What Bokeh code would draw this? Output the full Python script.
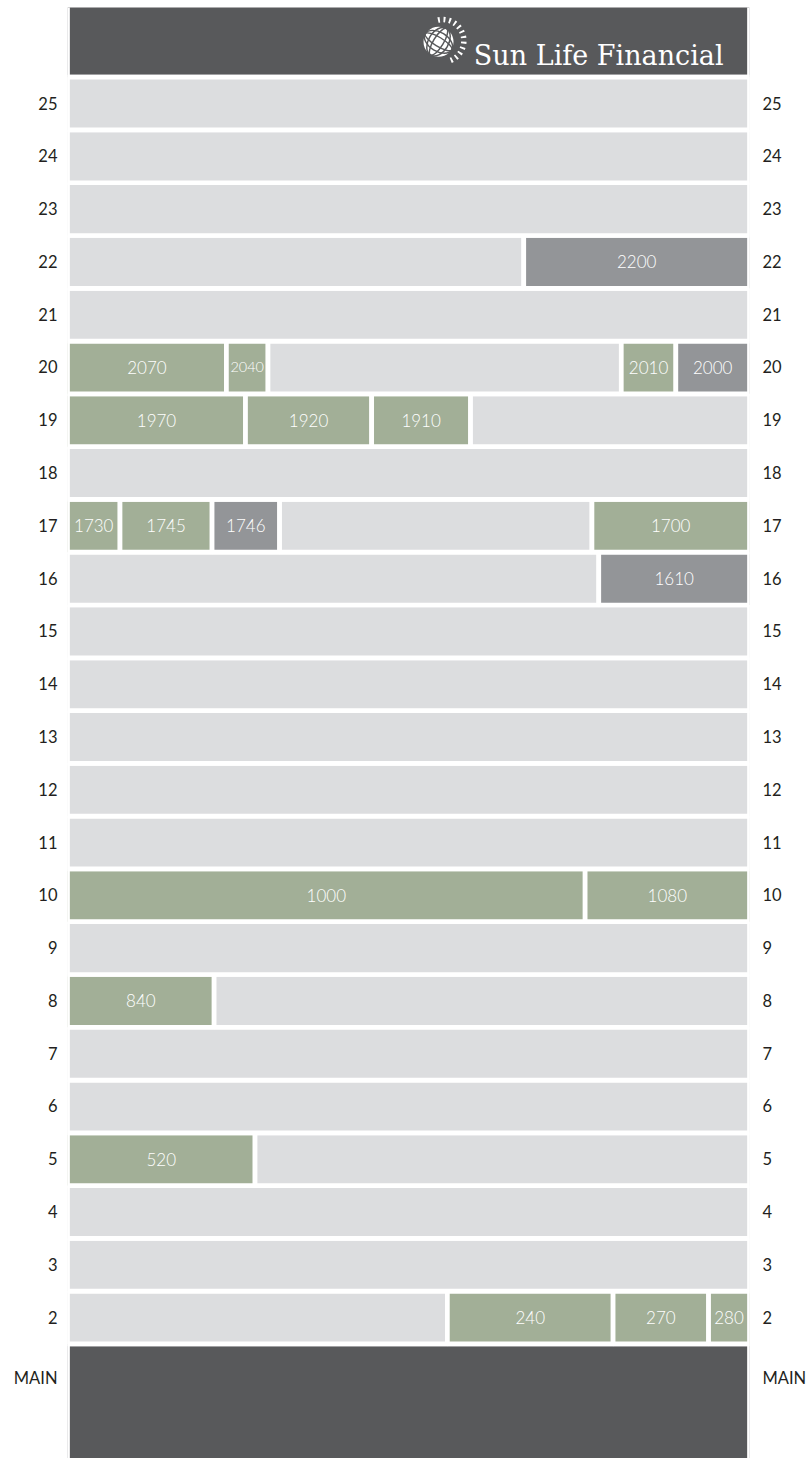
import math
from bokeh.plotting import figure
from bokeh.models import Range1d, FixedTicker, LinearAxis, ColumnDataSource
from bokeh.embed import file_html
from bokeh.resources import INLINE
from bokeh.core.properties import value

# ---------------- data ----------------
floors = list(range(2, 26))
main_label = "MAIN"
main_level = 0.86
brand = "Sun Life Financial"

# suites per floor, listed left to right; share = % of floor width
seg_floor = [22, 22,
             20, 20, 20, 20, 20,
             19, 19, 19, 19,
             17, 17, 17, 17, 17,
             16, 16,
             10, 10,
             8, 8,
             5, 5,
             2, 2, 2, 2]
seg_suite = ["", "2200",
             "2070", "2040", "", "2010", "2000",
             "1970", "1920", "1910", "",
             "1730", "1745", "1746", "", "1700",
             "", "1610",
             "1000", "1080",
             "840", "",
             "520", "",
             "", "240", "270", "280"]
seg_share = [66.9, 33.1,
             23.3, 6.1, 51.8, 8.0, 10.8,
             26.1, 18.5, 14.5, 40.9,
             7.7, 13.5, 9.9, 45.8, 23.1,
             77.9, 22.1,
             75.9, 24.1,
             21.5, 78.5,
             27.5, 72.5,
             55.7, 24.3, 14.0, 6.0]
seg_status = ["open", "avail",
              "leased", "leased", "open", "leased", "avail",
              "leased", "leased", "leased", "open",
              "leased", "leased", "avail", "open", "leased",
              "open", "avail",
              "leased", "leased",
              "leased", "open",
              "leased", "open",
              "open", "leased", "leased", "leased"]

status_colors = {"leased": "#A2AF97", "avail": "#939598", "open": "#DCDDDF"}
HEADER = "#58595B"
GAP = 4.7

FRAME_W = 684
PX_PER_UNIT = FRAME_W / 100.0

# ---------------- build cells ----------------
L, R, B, T, C, CX, CY, LAB, FS = [], [], [], [], [], [], [], [], []
for f in floors:
    idx = [i for i, fl in enumerate(seg_floor) if fl == f]
    items = [(seg_suite[i], seg_share[i], seg_status[i]) for i in idx] or [("", 100.0, "open")]
    x0 = 0.0
    for s, w, st in items:
        L.append(x0); R.append(x0 + w); B.append(f - 0.5); T.append(f + 0.5)
        C.append(status_colors[st])
        x0 += w
        if s:
            CX.append((L[-1] + R[-1]) / 2); CY.append(f); LAB.append(s)
            inner = w * PX_PER_UNIT - GAP - 4
            FS.append("%.1fpx" % min(17.0, inner / (len(s) * 0.57)))

cells = ColumnDataSource(dict(left=L, right=R, bottom=B, top=T, color=C))
labels = ColumnDataSource(dict(x=CX, y=CY, text=LAB, fs=FS))

# ---------------- figure ----------------
p = figure(width=809, height=1458, output_backend="svg", toolbar_location=None,
           x_range=Range1d(0, 100), y_range=Range1d(-0.67, 26.82),
           x_axis_location=None, y_axis_location="left",
           min_border_left=67, min_border_right=58, min_border_top=7, min_border_bottom=0,
           outline_line_color=None, background_fill_color="white", border_fill_color="white")
p.grid.visible = False

# roof (header) and main lobby block
p.quad(left=[0], right=[100], bottom=[floors[-1] + 0.5], top=[30],
       fill_color=HEADER, line_color="white", line_width=GAP)
p.quad(left=[0], right=[100], bottom=[-3], top=[floors[0] - 0.5],
       fill_color=HEADER, line_color="white", line_width=GAP)

p.quad(left="left", right="right", bottom="bottom", top="top", source=cells,
       fill_color="color", line_color="white", line_width=GAP)

p.text(x="x", y="y", text="text", source=labels, text_font=value("Lato Light"),
       text_font_size="fs", text_color="white", text_align="center",
       text_baseline="middle")

# ---------------- logo ----------------
gx, gy = 54.4, 26.17
rx, ry = 55.0, 26.19
p.circle(x=[gx], y=[gy], radius=15, radius_units="screen",
         fill_color="white", line_color=None)
p.ellipse(x=[gx, gx], y=[gy, gy], width=[10, 20], height=[31, 31], angle=[-0.55, -0.55],
          width_units="screen", height_units="screen",
          fill_color=None, line_color=HEADER, line_width=1.5)
p.ellipse(x=[gx, gx], y=[gy, gy], width=[31, 31], height=[9, 19], angle=[-0.55, -0.55],
          width_units="screen", height_units="screen",
          fill_color=None, line_color=HEADER, line_width=1.4)
ray_angles = [math.radians(a) for a in range(100, -70, -15)]
p.annular_wedge(x=[rx] * len(ray_angles), y=[ry] * len(ray_angles),
                inner_radius=18.5, outer_radius=24,
                inner_radius_units="screen", outer_radius_units="screen",
                start_angle=[a - 0.045 for a in ray_angles],
                end_angle=[a + 0.045 for a in ray_angles],
                fill_color="white", line_color=None)
p.text(x=[96.2], y=[25.91], text=[brand], text_font=value("DejaVu Serif"),
       text_font_size="27px", text_color="white", text_align="right",
       text_baseline="alphabetic")

# ---------------- axes ----------------
ticks = [main_level] + floors
overrides = {f: str(f) for f in floors}
overrides[main_level] = main_label


def style_axis(ax, standoff):
    ax.ticker = FixedTicker(ticks=ticks)
    ax.major_label_overrides = overrides
    ax.axis_line_color = None
    ax.major_tick_line_color = None
    ax.minor_tick_line_color = None
    ax.major_tick_out = 0
    ax.major_tick_in = 0
    ax.major_label_standoff = standoff
    ax.major_label_text_font = "Lato"
    ax.major_label_text_font_size = "16.5px"
    ax.major_label_text_color = "#231F20"


style_axis(p.yaxis[0], 10)
right_axis = LinearAxis()
style_axis(right_axis, 13)
p.add_layout(right_axis, "right")

open("out.html", "w").write(file_html(p, INLINE))
